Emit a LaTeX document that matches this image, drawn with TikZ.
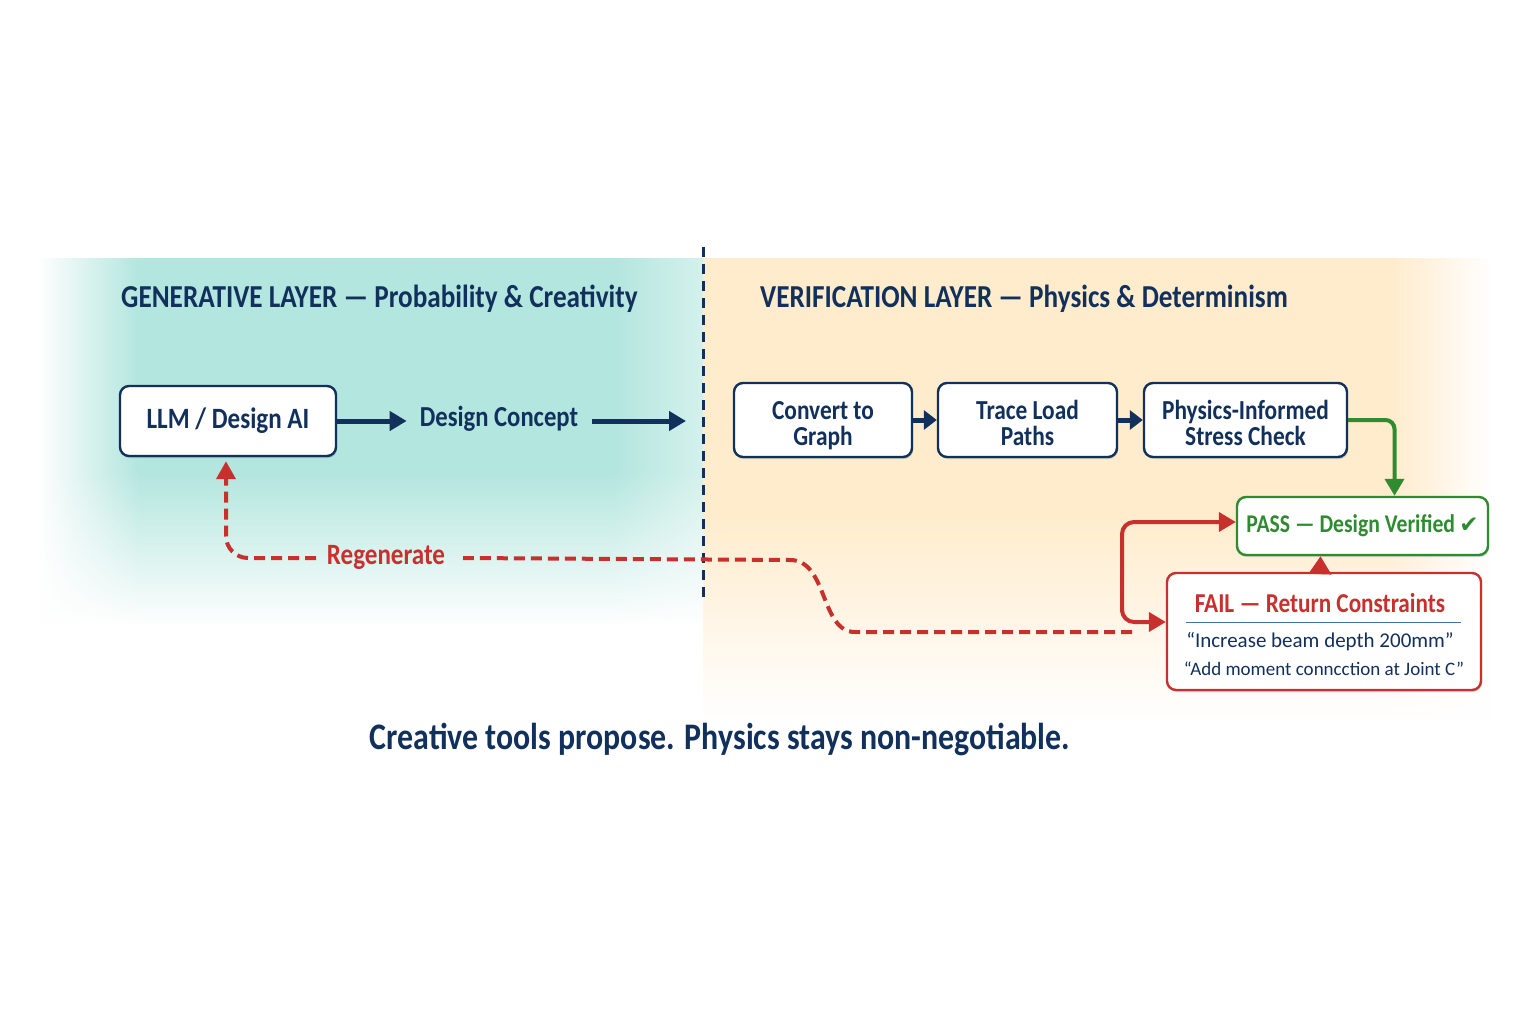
\documentclass[tikz,border=0pt]{standalone}
\usepackage{fontspec}
\setmainfont{Carlito}
\newfontfamily\cfont[FakeStretch=0.85]{Carlito}
\newfontfamily\symfont{DejaVu Sans}
\usetikzlibrary{arrows.meta,fadings,shadows,calc}
\definecolor{navy}{HTML}{12305C}
\definecolor{rred}{HTML}{C8302E}
\definecolor{ggreen}{HTML}{2E8B30}
\definecolor{tealbg}{HTML}{B2E6DE}
\definecolor{creambg}{HTML}{FFECCC}
\definecolor{sepblue}{HTML}{4A6FA8}
\tikzfading[name=fadeW, left color=transparent!0, right color=transparent!100]
\tikzfading[name=fadeE, left color=transparent!100, right color=transparent!0]
\tikzfading[name=fadeS, top color=transparent!100, bottom color=transparent!0]
\newcommand{\toprule}{\rule{0pt}{30pt}}
\newcommand{\botrule}{\rule[-6pt]{0pt}{6pt}}
\tikzset{
  box/.style={draw=navy, line width=2.4pt, rounded corners=9pt, fill=white,
    align=center, text=navy, font=\cfont\fontsize{27.5}{26}\selectfont\bfseries,
    drop shadow={shadow xshift=1pt, shadow yshift=-2pt, opacity=0.18, fill=navy}},
  arr/.style={draw=navy, line width=5pt, -{Triangle[length=17pt,width=19pt]}},
  sarr/.style={draw=navy, line width=5pt, -{Triangle[length=13pt,width=19pt]}},
  garr/.style={draw=ggreen, line width=4pt, rounded corners=9pt, -{Triangle[length=17pt,width=19pt]}},
  rarr/.style={draw=rred, line width=4pt, rounded corners=12pt},
  rdash/.style={draw=rred, line width=4pt, dash pattern=on 11pt off 6pt},
  ttl/.style={text=navy, font=\cfont\fontsize{32}{34}\selectfont\bfseries, inner sep=0pt}
}
\begin{document}
\begin{tikzpicture}[x=1pt,y=-1pt]
\useasboundingbox (0,0) rectangle (1536,1024);
\fill[white] (0,0) rectangle (1536,1024);
% left panel
\fill[tealbg] (40,258) rectangle (703,625);
\fill[white, path fading=fadeW] (39,257) rectangle (140,626);
\fill[white, opacity=0.45, path fading=fadeE] (610,257) rectangle (703,626);
\fill[white, path fading=fadeS] (39,470) rectangle (704,626);
% right panel
\fill[creambg] (703,258) rectangle (1490,720);
\fill[white, path fading=fadeE] (1390,257) rectangle (1491,721);
\fill[white, path fading=fadeS] (702,510) rectangle (1491,721);
% divider
\draw[navy, line width=3pt, dash pattern=on 10pt off 7pt] (703,247) coordinate (dtop) -- (703,598) coordinate (dbot);
% titles
\node[ttl, anchor=base west] (gtitle) at (121,308) {GENERATIVE LAYER — Probability \& Creativity};
\node[ttl, anchor=base west] (vtitle) at (760,308) {VERIFICATION LAYER — Physics \& Determinism};
% boxes
\node[box, minimum width=216pt, minimum height=70pt, font=\cfont\fontsize{29.5}{30}\selectfont\bfseries] (llm) at (228,421) {LLM / Design AI};
\node[text=navy, font=\cfont\fontsize{29}{30}\selectfont\bfseries, inner sep=0pt] (dc) at (499,419) {Design Concept};
\coordinate (gate) at (686,421);
\node[box, minimum width=178pt, minimum height=74pt] (conv) at (823,420) {\toprule Convert to\\Graph\botrule};
\node[box, minimum width=179pt, minimum height=74pt] (trace) at (1027.5,420) {\toprule Trace Load\\Paths\botrule};
\node[box, minimum width=203pt, minimum height=74pt] (stress) at (1245.5,420) {\toprule Physics-Informed\\Stress Check\botrule};
\node[box, draw=ggreen, text=ggreen, minimum width=251pt, minimum height=58pt,
  font=\cfont\fontsize{25.5}{27}\selectfont\bfseries] (pass) at (1362.5,526) {PASS — Design Verified\,{\symfont\fontsize{23}{24}\selectfont ✔}};
\node[box, draw=rred, minimum width=314pt, minimum height=117pt, drop shadow={opacity=0}] (fail) at (1324,631.5) {};
\node[text=rred, font=\cfont\fontsize{27.3}{28}\selectfont\bfseries, inner sep=0pt] (failt) at (1320,603) {FAIL — Return Constraints};
\draw[sepblue, line width=1pt] (1186,622) coordinate (sl) -- (1461,622) coordinate (sr);
\node[text=navy, font=\fontsize{21}{23}\selectfont, inner sep=0pt] (q1) at (1320,642) {“Increase beam depth 200mm”};
\node[text=navy, font=\fontsize{19}{20}\selectfont, inner sep=0pt] (q2) at (1324,669) {“Add moment conncction at Joint C”};
% arrows
\draw[arr, shorten >=13pt] (llm.east) -- (llm.east -| dc.west);
\draw[arr, shorten <=14pt] (dc.east |- gate) -- (gate);
\draw[sarr] (conv.east) -- (trace.west);
\draw[sarr] (trace.east) -- (stress.west);
\draw[garr] (stress.east) -| ($(pass.north)+(32,0)$);
\draw[rarr, {Triangle[length=17pt,width=19pt]}-{Triangle[length=17pt,width=19pt]}]
  ($(pass.west)+(0,-4)$) -| (1122,600) |- ($(fail.west)+(0,-9.5)$);
\draw[rarr, -{Triangle[length=18pt,width=22pt]}] ($(fail.north)+(-4,0)$) -- ($(pass.south)+(-42,0)$);
% regenerate loop
\coordinate (rs) at (1132,632);
\coordinate (regR) at (463,558);
\coordinate (regL) at (316,558);
\draw[rdash] (rs) -- (855,632) .. controls (820,632) and (828,560) .. (790,560) -- (regR);
\node[text=rred, font=\cfont\fontsize{29.5}{30}\selectfont\bfseries, inner sep=0pt] (regen) at (386,557) {Regenerate};
\draw[rdash, rounded corners=22pt, -{Triangle[length=18pt,width=19pt]}] (regL) -| ($(llm.south)+(-2,4)$);
% caption
\node[text=navy, font=\cfont\fontsize{37.5}{40}\selectfont\bfseries, inner sep=0pt] (cap) at (720,739) {Creative tools propose. Physics stays non-negotiable.};
\end{tikzpicture}
\end{document}
